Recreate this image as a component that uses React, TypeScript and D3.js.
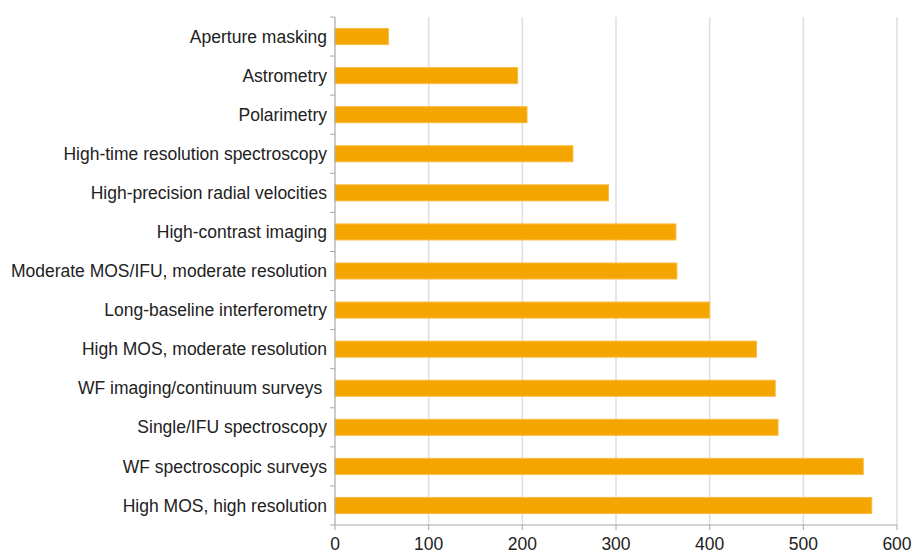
import React from "react";
import { scaleLinear, scaleBand } from "d3";

const categories = [
  "Aperture masking",
  "Astrometry",
  "Polarimetry",
  "High-time resolution spectroscopy",
  "High-precision radial velocities",
  "High-contrast imaging",
  "Moderate MOS/IFU, moderate resolution",
  "Long-baseline interferometry",
  "High MOS, moderate resolution",
  "WF imaging/continuum surveys\u00a0",
  "Single/IFU spectroscopy",
  "WF spectroscopic surveys",
  "High MOS, high resolution",
];
const values = [57, 195, 205, 254, 292, 364, 365, 400, 450, 470, 473, 564, 573];
const xTicks = [0, 100, 200, 300, 400, 500, 600];

const W = 912;
const H = 552;
const margin = { top: 17, right: 15, bottom: 27, left: 335 };

const App: React.FC = () => {
  const xScale = scaleLinear().domain([0, 600]).range([margin.left, W - margin.right]);
  const yScale = scaleBand<string>()
    .domain(categories)
    .range([margin.top, H - margin.bottom])
    .paddingInner(0.59)
    .paddingOuter(0.295);
  const step = yScale.step();
  const y0 = margin.top;
  const y1 = H - margin.bottom;
  const font = "'Liberation Sans', Arial, sans-serif";

  return (
    <svg
      width={W}
      height={H}
      style={{ position: "absolute", left: 0, top: 0, background: "#fff" }}
    >
      {/* grid */}
      {xTicks.slice(1).map((t) => (
        <line
          key={"g" + t}
          x1={xScale(t)}
          x2={xScale(t)}
          y1={y0}
          y2={y1}
          stroke="#dedede"
          strokeWidth={1.5}
        />
      ))}
      {/* bars */}
      {categories.map((c, i) => (
        <rect
          key={c}
          x={xScale(0)}
          y={yScale(c)}
          width={xScale(values[i]) - xScale(0)}
          height={yScale.bandwidth()}
          fill="#f5a500"
          stroke="#f8bb40"
          strokeWidth={1}
        />
      ))}
      {/* y axis */}
      <line x1={margin.left} x2={margin.left} y1={y0} y2={y1} stroke="#a8a8a8" strokeWidth={1.2} />
      {categories.map((c, i) => (
        <line
          key={"yt" + i}
          x1={margin.left - 5}
          x2={margin.left}
          y1={y0 + i * step}
          y2={y0 + i * step}
          stroke="#a8a8a8"
        />
      ))}
      <line x1={margin.left - 5} x2={margin.left} y1={y1} y2={y1} stroke="#a8a8a8" />
      {categories.map((c) => (
        <text
          key={"yl" + c}
          x={margin.left - 8}
          y={(yScale(c) as number) + yScale.bandwidth() / 2}
          dy="0.35em"
          textAnchor="end"
          fontFamily={font}
          fontSize={17.5}
          fill="#222"
          style={{ whiteSpace: "pre" }}
        >
          {c}
        </text>
      ))}
      {/* x axis */}
      <line x1={margin.left} x2={xScale(600)} y1={y1} y2={y1} stroke="#a8a8a8" strokeWidth={1.2} />
      {xTicks.map((t) => (
        <g key={"xt" + t}>
          <line x1={xScale(t)} x2={xScale(t)} y1={y1} y2={y1 + 5} stroke="#a8a8a8" />
          <text
            x={xScale(t)}
            y={y1 + 25}
            textAnchor="middle"
            fontFamily={font}
            fontSize={17.5}
            fill="#222"
          >
            {t}
          </text>
        </g>
      ))}
    </svg>
  );
};

export default App;
